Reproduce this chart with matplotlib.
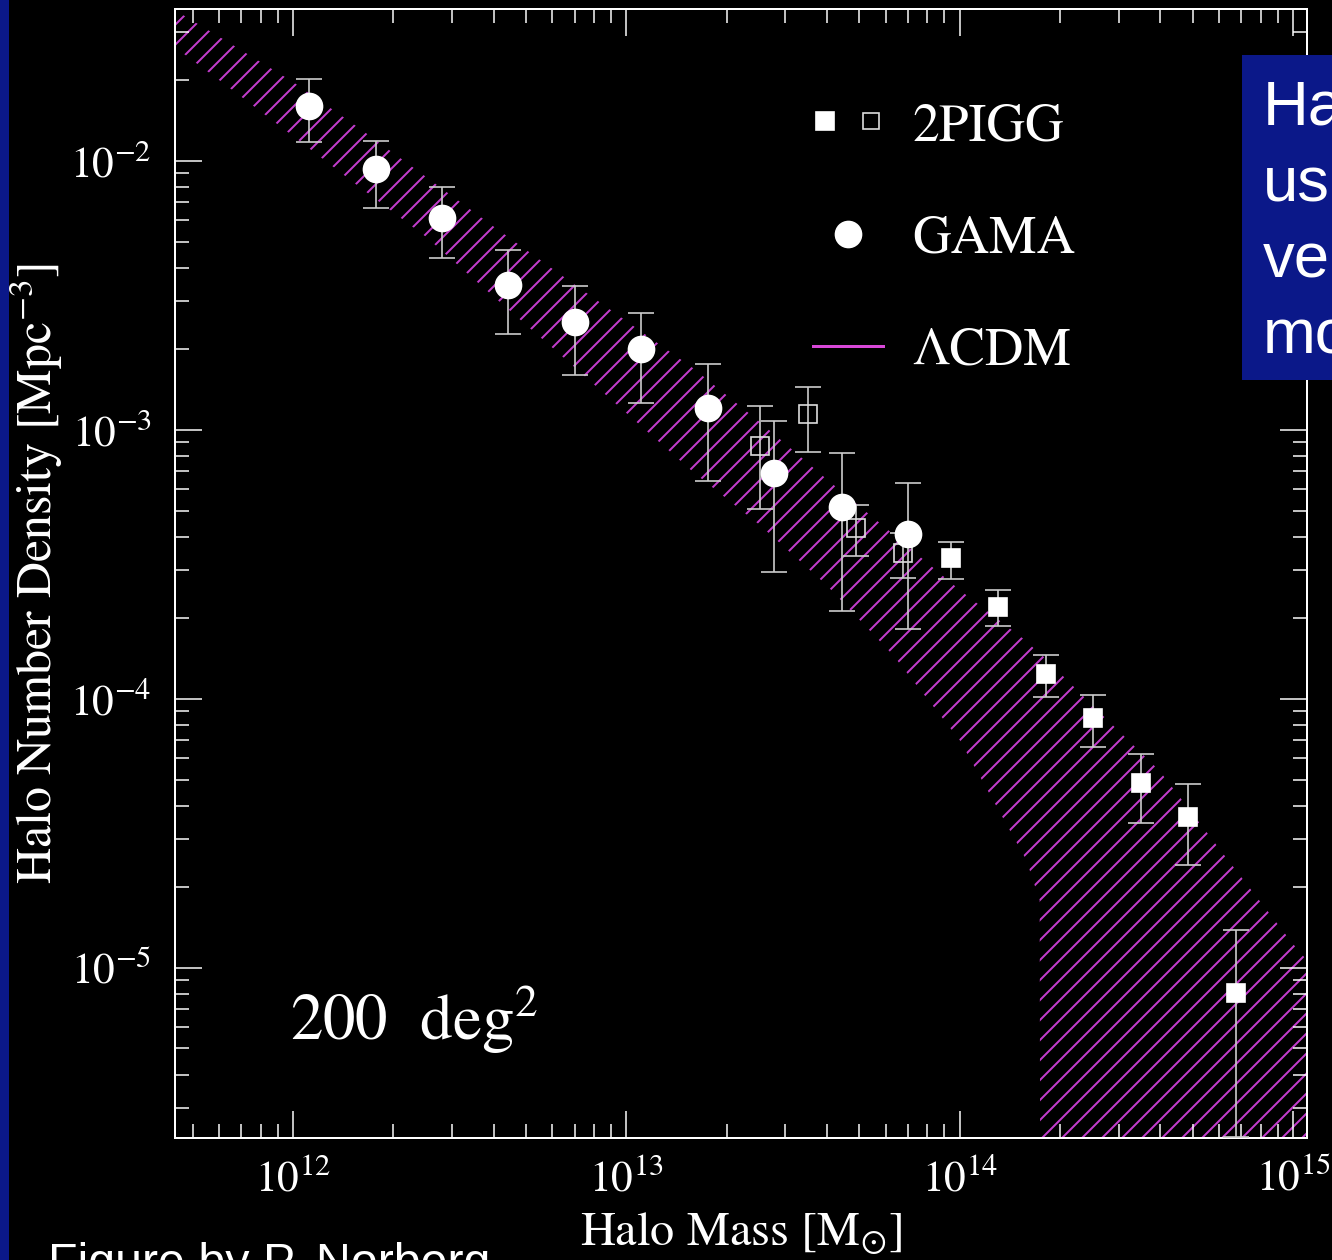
import numpy as np
import matplotlib
matplotlib.use("Agg")
import matplotlib.pyplot as plt
from matplotlib.patches import Rectangle
from matplotlib.lines import Line2D
from matplotlib.legend_handler import HandlerTuple
from matplotlib.ticker import NullFormatter

plt.rcParams['font.family'] = ['STIXGeneral', 'DejaVu Serif']
plt.rcParams['mathtext.fontset'] = 'stix'
plt.rcParams['hatch.linewidth'] = 1.2

# GAMA groups (circles)
gama_mass = np.array([1.12e12, 1.77e12, 2.80e12, 4.43e12, 7.03e12,
                      1.11e13, 1.76e13, 2.78e13, 4.43e13, 6.98e13])
gama_n = np.array([1.60e-2, 9.31e-3, 6.15e-3, 3.45e-3, 2.51e-3,
                   2.00e-3, 1.20e-3, 6.90e-4, 5.16e-4, 4.09e-4])
gama_hi = np.array([2.01e-2, 1.18e-2, 7.98e-3, 4.66e-3, 3.42e-3,
                    2.72e-3, 1.75e-3, 1.08e-3, 8.19e-4, 6.34e-4])
gama_lo = np.array([1.17e-2, 6.67e-3, 4.35e-3, 2.27e-3, 1.60e-3,
                    1.26e-3, 6.45e-4, 2.96e-4, 2.12e-4, 1.82e-4])

# 2PIGG groups, open squares
pigg_open_mass = np.array([2.52e13, 3.50e13, 4.88e13, 6.75e13])
pigg_open_n = np.array([8.70e-4, 1.14e-3, 4.31e-4, 3.48e-4])
pigg_open_hi = np.array([1.22e-3, 1.44e-3, 5.25e-4, 4.13e-4])
pigg_open_lo = np.array([5.07e-4, 8.26e-4, 3.39e-4, 2.81e-4])

# 2PIGG groups, filled squares
pigg_mass = np.array([9.40e13, 1.30e14, 1.81e14, 2.52e14, 3.50e14, 4.84e14, 6.75e14])
pigg_n = np.array([3.33e-4, 2.19e-4, 1.235e-4, 8.48e-5, 4.86e-5, 3.63e-5, 8.05e-6])
pigg_hi = np.array([3.82e-4, 2.54e-4, 1.45e-4, 1.03e-4, 6.23e-5, 4.82e-5, 1.38e-5])
pigg_lo = np.array([2.79e-4, 1.86e-4, 1.01e-4, 6.61e-5, 3.45e-5, 2.41e-5, 2.35e-6])

# LCDM expectation band (log10 values)
band_logm = np.array([11.6, 11.8, 12.0, 12.2, 12.4, 12.6, 12.8, 13.0, 13.2, 13.4,
                      13.6, 13.8, 14.0, 14.2, 14.24, 14.245, 14.4, 14.6, 14.8, 15.0, 15.1])
band_hi = np.array([-1.406, -1.555, -1.707, -1.880, -2.061, -2.243, -2.421, -2.596, -2.771, -2.971,
                    -3.183, -3.388, -3.596, -3.786, -3.834, -3.836, -4.027, -4.269, -4.592, -4.912, -5.057])
band_lo = np.array([-1.536, -1.720, -1.908, -2.098, -2.284, -2.503, -2.719, -2.938, -3.157, -3.354,
                    -3.577, -3.838, -4.154, -4.600, -4.750, -8.0, -8.0, -8.0, -8.0, -8.0, -8.0])

navy = '#0b1889'
hatch_col = '#c23ccc'
line_col = '#d848d8'
err_col = '#cccccc'

plt.rcParams['hatch.color'] = hatch_col

fig = plt.figure(figsize=(11.1, 10.5), dpi=120, facecolor='black')
ax = fig.add_axes([0.1314, 0.0968, 0.8498, 0.8960])
ax.set_facecolor('black')

# slide decoration around the figure
fig.patches.append(Rectangle((0, 0), 0.0068, 1, transform=fig.transFigure,
                             facecolor=navy, edgecolor='none', zorder=0))
fig.patches.append(Rectangle((0.9324, 0.6984), 0.08, 0.2579, transform=fig.transFigure,
                             facecolor=navy, edgecolor='none', zorder=5))
side_lines = ['Ha', 'us', 've', 'mo']
for i, s in enumerate(side_lines):
    fig.text(0.948, 0.9008 - i * 0.0605, s, color='white', fontsize=38,
             family='Liberation Sans', va='baseline', zorder=6)
fig.text(0.036, -0.0135, 'Figure by P. Norberg', color='white', fontsize=29,
         family='Liberation Sans', va='baseline')

ax.set_xscale('log')
ax.set_yscale('log')

ax.fill_between(10 ** band_logm, 10 ** band_lo, 10 ** band_hi, facecolor='none',
                edgecolor=hatch_col, linewidth=0, hatch='//', zorder=1)

ax.errorbar(pigg_open_mass, pigg_open_n,
            yerr=[pigg_open_n - pigg_open_lo, pigg_open_hi - pigg_open_n],
            fmt='s', ms=11, mfc='none', mec='#dddddd', mew=1.0,
            ecolor=err_col, elinewidth=1.0, capsize=7.8, capthick=1.0, zorder=3)
ax.errorbar(pigg_mass, pigg_n, yerr=[pigg_n - pigg_lo, pigg_hi - pigg_n],
            fmt='s', ms=11, mfc='white', mec='white',
            ecolor=err_col, elinewidth=1.0, capsize=7.8, capthick=1.0, zorder=3)
ax.errorbar(gama_mass, gama_n, yerr=[gama_n - gama_lo, gama_hi - gama_n],
            fmt='o', ms=15.6, mfc='white', mec='white',
            ecolor=err_col, elinewidth=1.0, capsize=7.8, capthick=1.0, zorder=4)

ax.set_xlim(10 ** 11.646, 10 ** 15.042)
ax.set_ylim(10 ** -5.634, 10 ** -1.436)

for sp in ax.spines.values():
    sp.set_color('white')
    sp.set_linewidth(1.2)
ax.tick_params(which='both', direction='in', top=True, right=True,
               colors='white', labelcolor='white')
ax.tick_params(which='major', length=16, width=0.9, labelsize=26)
ax.tick_params(which='minor', length=8.4, width=0.9)
ax.tick_params(axis='y', which='major', pad=14)
ax.tick_params(axis='x', which='major', pad=12)
ax.xaxis.set_minor_formatter(NullFormatter())
ax.yaxis.set_minor_formatter(NullFormatter())

ax.set_xlabel(r'Halo Mass [M$_{\odot}$]', color='white', fontsize=29)
ax.set_ylabel(r'Halo Number Density [Mpc$^{-3}$]', color='white', fontsize=30)
ax.xaxis.set_label_coords(0.5, -0.064)
ax.yaxis.set_label_coords(-0.097, 0.5)

ax.text(0.1016, 0.0868, r'200  deg$^2$', transform=ax.transAxes, color='white',
        fontsize=39, va='baseline')

h_fill = Line2D([], [], ls='none', marker='s', ms=11, mfc='white', mec='white')
h_open = Line2D([], [], ls='none', marker='s', ms=10, mfc='none', mec='#dddddd', mew=1.0)
h_circ = Line2D([], [], ls='none', marker='o', ms=15.6, mfc='white', mec='white')
h_line = Line2D([], [], color=line_col, lw=1.8)
ax.legend([(h_fill, h_open), h_circ, h_line], ['2PIGG', 'GAMA', 'ΛCDM'],
          handler_map={tuple: HandlerTuple(ndivide=None, pad=0.4)},
          loc='upper left', bbox_to_anchor=(0.564, 0.917), frameon=False,
          fontsize=32, labelcolor='white', handlelength=1.3, handletextpad=0.55,
          labelspacing=1.18, borderpad=0, borderaxespad=0)

fig.savefig('out.png', dpi=120, facecolor='black')
